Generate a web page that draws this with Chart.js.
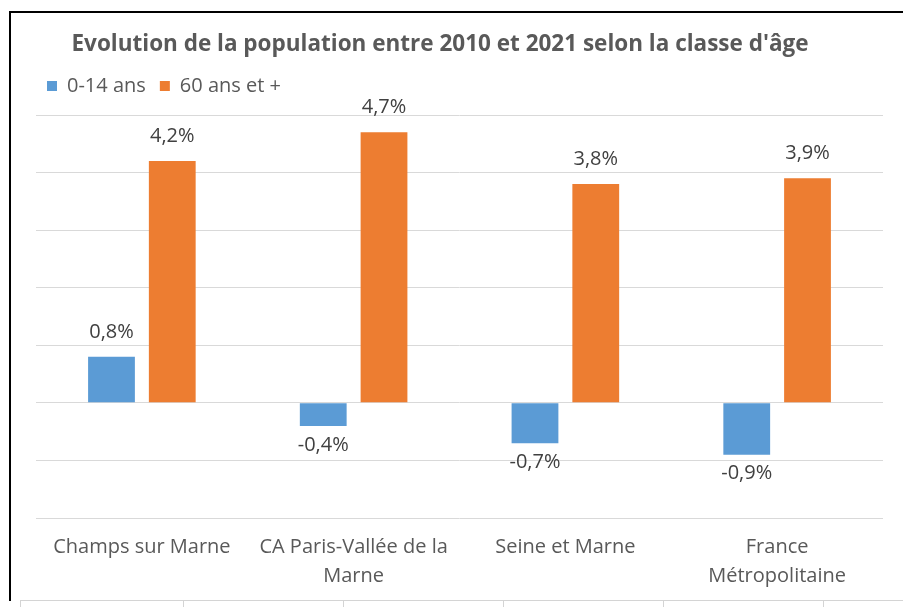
<!DOCTYPE html>
<html>
<head>
<meta charset="utf-8">
<script src="https://cdn.jsdelivr.net/npm/chart.js@4"></script>
<style>
  body { margin: 0; background: #fff; }
  #wrap { position: relative; width: 903px; height: 607px; overflow: hidden; }
  #popChart { position: absolute; left: 0; top: 0; }
  .line { position: absolute; }
</style>
</head>
<body>
<div id="wrap">
  <canvas id="popChart" width="903" height="607"></canvas>
  <!-- chart frame -->
  <div class="line" style="left:9px; top:11px; width:894px; height:2px; background:#000;"></div>
  <div class="line" style="left:9px; top:11px; width:2px; height:590px; background:#000;"></div>
  <!-- spreadsheet cells under the chart -->
  <div class="line" style="left:20px; top:600px; width:883px; height:1px; background:#d4d4d4;"></div>
  <div class="line" style="left:20px; top:600px; width:1px; height:7px; background:#d4d4d4;"></div>
  <div class="line" style="left:183px; top:600px; width:1px; height:7px; background:#d4d4d4;"></div>
  <div class="line" style="left:343px; top:600px; width:1px; height:7px; background:#d4d4d4;"></div>
  <div class="line" style="left:503px; top:600px; width:1px; height:7px; background:#d4d4d4;"></div>
  <div class="line" style="left:663px; top:600px; width:1px; height:7px; background:#d4d4d4;"></div>
  <div class="line" style="left:823px; top:600px; width:1px; height:7px; background:#d4d4d4;"></div>
</div>
<script>
// Data (percent change 2010-2021)
const territories = [
    'Champs sur Marne',
    ['CA Paris-Vallée de la', 'Marne'],
    'Seine et Marne',
    ['France', 'Métropolitaine']
];
const young = [0.8, -0.4, -0.7, -0.9];     // 0-14 ans
const senior = [4.2, 4.7, 3.8, 3.9];       // 60 ans et +
const seriesNames = ['0-14 ans', '60 ans et +'];

const fontFamily = '"Open Sans", sans-serif';
const textGrey = '#595959';

// Format like Excel with french decimal comma
function pct(v) {
    return v.toFixed(1).replace('.', ',') + '%';
}

// Draw value labels above / below each bar
const valueLabels = {
    id: 'valueLabels',
    afterDatasetsDraw(chart) {
        const ctx = chart.ctx;
        ctx.save();
        ctx.font = '20px ' + fontFamily;
        ctx.fillStyle = '#404040';
        ctx.textAlign = 'center';
        ctx.textBaseline = 'middle';
        chart.data.datasets.forEach((ds, i) => {
            chart.getDatasetMeta(i).data.forEach((bar, j) => {
                const v = ds.data[j];
                const y = v >= 0 ? bar.y - 25 : bar.y + 19;
                ctx.fillText(pct(v), bar.x, y);
            });
        });
        ctx.restore();
    }
};

// Title sits a bit left of the plot centre in the original,
// and there is more room under the legend
const layoutTweaks = {
    id: 'layoutTweaks',
    beforeUpdate(chart) {
        const legend = chart.legend;
        if (legend && !legend._extraSpace) {
            const fit = legend.fit;
            legend.fit = function () {
                fit.call(this);
                this.height += 9;
            };
            legend._extraSpace = true;
        }
    },
    afterLayout(chart) {
        chart.titleBlock.left -= 18;
        chart.titleBlock.right -= 18;
    }
};

const ctx = document.getElementById('popChart').getContext('2d');
const popChart = new Chart(ctx, {
    type: 'bar',
    data: {
        labels: territories,
        datasets: [{
            label: seriesNames[0],
            data: young,
            backgroundColor: '#5b9bd5',
            categoryPercentage: 0.574,
            barPercentage: 0.77
        }, {
            label: seriesNames[1],
            data: senior,
            backgroundColor: '#ed7d31',
            categoryPercentage: 0.574,
            barPercentage: 0.77
        }]
    },
    options: {
        responsive: false,
        animation: false,
        layout: { padding: { left: 33, right: 20, top: 0, bottom: 0 } },
        scales: {
            x: {
                grid: { display: false, drawTicks: false },
                border: { display: false },
                ticks: {
                    color: textGrey,
                    font: { family: fontFamily, size: 20, lineHeight: 1.45 },
                    padding: 15,
                    maxRotation: 0,
                    autoSkip: false
                },
                afterFit(scale) { scale.height = 89; }
            },
            y: {
                min: -2,
                max: 5,
                ticks: { display: false, stepSize: 1 },
                grid: { color: '#d9d9d9', drawTicks: false },
                border: { display: false },
                afterFit(scale) { scale.width = 3; }
            }
        },
        plugins: {
            title: {
                display: true,
                text: "Evolution de la population entre 2010 et 2021 selon la classe d'âge",
                color: textGrey,
                font: { family: fontFamily, size: 22.5, weight: 'bold', lineHeight: 1.2 },
                padding: { top: 31, bottom: 4 }
            },
            legend: {
                position: 'top',
                align: 'start',
                labels: {
                    color: textGrey,
                    boxWidth: 10,
                    boxHeight: 10,
                    padding: 14,
                    font: { family: fontFamily, size: 20 }
                }
            },
            tooltip: { enabled: false }
        }
    },
    plugins: [valueLabels, layoutTweaks]
});
</script>
</body>
</html>
